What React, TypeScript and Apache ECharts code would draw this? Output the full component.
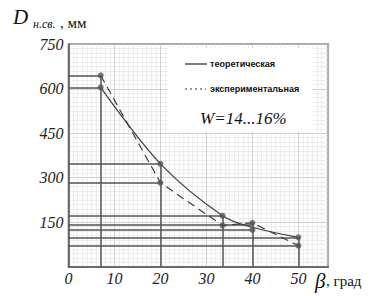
import React, { useEffect, useRef } from "react";
import * as echarts from "echarts";

// β, град — points where both curves are measured
const betaValues = [7, 20, 33.5, 40, 50];
// теоретическая (solid)
const theoretical = [605, 347, 172, 133, 99];
// экспериментальная (dashed)
const experimental = [645, 283, 139, 148, 71];
// measured markers
const markerBeta = [7, 7, 20, 20, 33.5, 33.5, 40, 40, 50, 50];
const markerD = [645, 605, 347, 283, 172, 139, 148, 124, 99, 71];
// horizontal guide lines: level and where they end
const guideLevels = [645, 605, 347, 283, 172, 143, 124, 99, 71];
const guideEnds = [7, 7, 20, 20, 33.5, 40, 40, 50, 50];
// vertical guide lines: position and top
const verticalBeta = [7, 20, 33.5, 40, 50];
const verticalTop = [645, 347, 172, 148, 99];

const xLabels = [0, 10, 20, 30, 40, 50];
const yLabels = [150, 300, 450, 600, 750];

const SERIF = "'Liberation Serif', 'DejaVu Serif', serif";
const SANS = "'Liberation Sans', Arial, sans-serif";
const INK = "#3c3c3c";

export default function App() {
  const ref = useRef<HTMLDivElement>(null);
  useEffect(() => {
    document.body.style.margin = "0";
    const chart = echarts.init(ref.current!, null, { renderer: "svg" });
    const guides = [
      ...guideLevels.map((y, i) => ({ coords: [[0, y], [guideEnds[i], y]] })),
      ...verticalBeta.map((x, i) => ({ coords: [[x, 0], [x, verticalTop[i]]] })),
    ];
    chart.setOption({
      animation: false,
      backgroundColor: "#ffffff",
      grid: {
        left: 68.5,
        right: 51.7,
        top: 44.3,
        bottom: 29.3,
        show: true,
        borderColor: "#555",
        borderWidth: 1.5,
        backgroundColor: "transparent",
      },
      xAxis: {
        type: "value",
        min: 0,
        max: 56.5,
        interval: 10,
        axisLine: { show: true, lineStyle: { color: "#555", width: 1.5 } },
        axisTick: { show: false },
        axisLabel: {
          margin: 4,
          fontFamily: SERIF,
          fontStyle: "italic",
          fontSize: 16,
          color: "#222",
          formatter: (v: number) => (xLabels.includes(v) ? String(v) : ""),
        },
        splitLine: { show: true, lineStyle: { color: "#c4c4c4", width: 0.8 } },
        minorTick: { show: false, splitNumber: 10 },
        minorSplitLine: { show: true, lineStyle: { color: "#e3e3e3", width: 0.6 } },
      },
      yAxis: {
        type: "value",
        min: 0,
        max: 750,
        interval: 150,
        axisLine: { show: true, lineStyle: { color: "#555", width: 1.5 } },
        axisTick: { show: false },
        axisLabel: {
          margin: 5,
          fontFamily: SERIF,
          fontStyle: "italic",
          fontSize: 16,
          color: "#222",
          formatter: (v: number) => (yLabels.includes(v) ? String(v) : ""),
        },
        splitLine: { show: true, lineStyle: { color: "#c4c4c4", width: 0.8 } },
        minorTick: { show: false, splitNumber: 10 },
        minorSplitLine: { show: true, lineStyle: { color: "#e3e3e3", width: 0.6 } },
      },
      series: [
        {
          type: "lines",
          coordinateSystem: "cartesian2d",
          silent: true,
          z: 3,
          lineStyle: { color: "#555", width: 1.5, opacity: 1 },
          data: guides,
        },
        {
          name: "теоретическая",
          type: "line",
          smooth: 0.35,
          showSymbol: false,
          z: 4,
          lineStyle: { color: INK, width: 1.2 },
          data: betaValues.map((b, i) => [b, theoretical[i]]),
        },
        {
          name: "экспериментальная",
          type: "line",
          showSymbol: false,
          z: 4,
          lineStyle: { color: INK, width: 1.2, type: [8, 5] },
          data: betaValues.map((b, i) => [b, experimental[i]]),
        },
        {
          type: "scatter",
          symbol: "circle",
          symbolSize: 6,
          z: 5,
          itemStyle: { color: "#555" },
          data: markerBeta.map((b, i) => [b, markerD[i]]),
        },
      ],
      graphic: [
        {
          type: "rect",
          z: 1,
          shape: { x: 168, y: 48, width: 145, height: 84 },
          style: { fill: "#ffffff" },
        },
        {
          type: "line",
          z: 10,
          shape: { x1: 185, y1: 64, x2: 207, y2: 64 },
          style: { stroke: "#222", lineWidth: 1.2 },
        },
        {
          type: "text",
          z: 10,
          x: 210,
          y: 64,
          style: {
            text: "теоретическая",
            font: `bold 9px ${SANS}`,
            fill: "#111",
            verticalAlign: "middle",
          },
        },
        {
          type: "line",
          z: 10,
          shape: { x1: 185, y1: 89, x2: 206, y2: 89 },
          style: { stroke: "#333", lineWidth: 1, lineDash: [2, 3] },
        },
        {
          type: "text",
          z: 10,
          x: 210,
          y: 89,
          style: {
            text: "экспериментальная",
            font: `bold 9px ${SANS}`,
            fill: "#111",
            verticalAlign: "middle",
          },
        },
        {
          type: "text",
          z: 10,
          x: 200,
          y: 118,
          style: {
            text: "W=14...16%",
            font: `italic 17px ${SERIF}`,
            fill: "#111",
            verticalAlign: "middle",
          },
        },
        {
          type: "text",
          z: 10,
          x: 13,
          y: 17,
          style: {
            text: "D",
            font: `italic 21px ${SERIF}`,
            fill: "#111",
            verticalAlign: "middle",
          },
        },
        {
          type: "text",
          z: 10,
          x: 33,
          y: 24,
          style: {
            text: "н.св.",
            font: `italic 12px ${SERIF}`,
            fill: "#111",
            verticalAlign: "middle",
          },
        },
        {
          type: "text",
          z: 10,
          x: 60,
          y: 23,
          style: {
            text: ", мм",
            font: `15px ${SERIF}`,
            fill: "#111",
            verticalAlign: "middle",
          },
        },
        {
          type: "text",
          z: 10,
          x: 315,
          y: 281,
          style: {
            text: "β",
            font: `italic 21px ${SERIF}`,
            fill: "#111",
            verticalAlign: "middle",
          },
        },
        {
          type: "text",
          z: 10,
          x: 326,
          y: 281,
          style: {
            text: ", град",
            font: `15px ${SERIF}`,
            fill: "#111",
            verticalAlign: "middle",
          },
        },
      ],
    });
    return () => chart.dispose();
  }, []);
  return (
    <div
      ref={ref}
      style={{ position: "absolute", left: 0, top: 0, width: 380, height: 296 }}
    />
  );
}
